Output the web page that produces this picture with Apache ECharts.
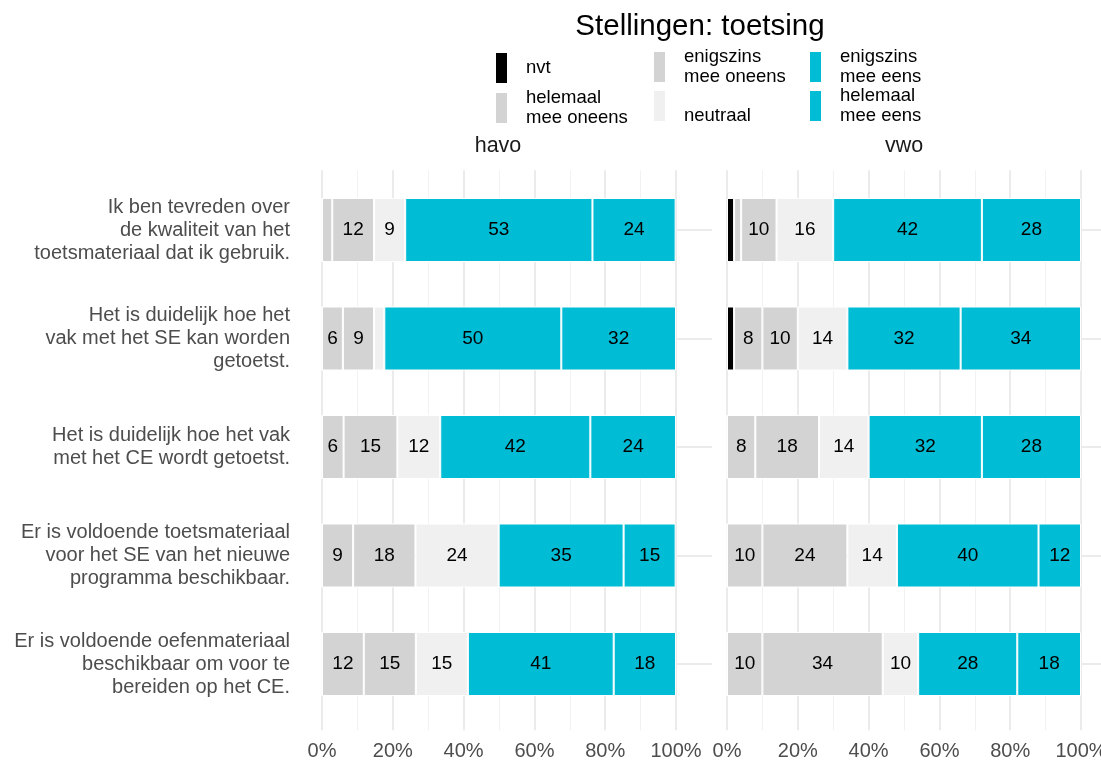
<!DOCTYPE html>
<html><head><meta charset="utf-8">
<script src="https://cdn.jsdelivr.net/npm/echarts@6/dist/echarts.min.js"></script>
<style>html,body{margin:0;padding:0;background:#fff}#c{width:1101px;height:760px}</style>
</head><body><div id="c"></div>
<script>
const categories = [
  'Ik ben tevreden over\nde kwaliteit van het\ntoetsmateriaal dat ik gebruik.',
  'Het is duidelijk hoe het\nvak met het SE kan worden\ngetoetst.',
  'Het is duidelijk hoe het vak\nmet het CE wordt getoetst.',
  'Er is voldoende toetsmateriaal\nvoor het SE van het nieuwe\nprogramma beschikbaar.',
  'Er is voldoende oefenmateriaal\nbeschikbaar om voor te\nbereiden op het CE.'
];
const seriesNames = ['nvt', 'helemaal mee oneens', 'enigszins mee oneens', 'neutraal', 'enigszins mee eens', 'helemaal mee eens'];
const legendLabels = ['nvt', 'helemaal\nmee oneens', 'enigszins\nmee oneens', '\nneutraal', 'enigszins\nmee eens', 'helemaal\nmee eens'];
const panelNames = ['havo', 'vwo'];
const tickLabels = ['0%', '20%', '40%', '60%', '80%', '100%'];
const chartTitle = 'Stellingen: toetsing';

// havo (percentages)
const havoNvt = [0, 0, 0, 0, 0];
const havoHelemaalOneens = [2.9, 5.9, 6.1, 8.8, 11.8];
const havoEnigszinsOneens = [11.8, 8.8, 15.2, 17.6, 14.7];
const havoNeutraal = [8.8, 2.9, 12.1, 23.5, 14.7];
const havoEnigszinsEens = [52.9, 50.0, 42.4, 35.3, 41.2];
const havoHelemaalEens = [23.5, 32.4, 24.2, 14.7, 17.6];

// vwo (percentages)
const vwoNvt = [2, 2, 0, 0, 0];
const vwoHelemaalOneens = [2, 8, 8, 10, 10];
const vwoEnigszinsOneens = [10, 10, 18, 24, 34];
const vwoNeutraal = [16, 14, 14, 14, 10];
const vwoEnigszinsEens = [42, 32, 32, 40, 28];
const vwoHelemaalEens = [28, 34, 28, 12, 18];

const panelData = [
  [havoNvt, havoHelemaalOneens, havoEnigszinsOneens, havoNeutraal, havoEnigszinsEens, havoHelemaalEens],
  [vwoNvt, vwoHelemaalOneens, vwoEnigszinsOneens, vwoNeutraal, vwoEnigszinsEens, vwoHelemaalEens]
];
const colors = ['#000000', '#D3D3D3', '#D3D3D3', '#F0F0F0', '#00BCD4', '#00BCD4'];

const FONT = "'Liberation Sans', Arial, sans-serif";
const gridLefts = [322, 727];
const gridTop = 175.75, gridH = 542.5, gridW = 354;

const grids = [], xAxes = [], yAxes = [], series = [];
panelNames.forEach((pn, p) => {
  grids.push({ left: gridLefts[p], top: gridTop, width: gridW, height: gridH, containLabel: false, outerBoundsMode: 'none' });
  xAxes.push({
    type: 'value', gridIndex: p, min: 0, max: 100, interval: 20, position: 'bottom', offset: 12,
    axisLine: { show: false },
    axisTick: { show: true, inside: true, length: 560, lineStyle: { color: '#EBEBEB', width: 2 } },
    minorTick: { show: true, splitNumber: 2, length: 560, lineStyle: { color: '#F2F2F2', width: 1 } },
    splitLine: { show: false },
    axisLabel: { formatter: v => tickLabels[Math.round(v / 20)], color: '#4D4D4D', fontSize: 20, margin: 11, fontFamily: FONT }
  });
  yAxes.push({
    type: 'category', gridIndex: p, data: categories, inverse: true, offset: 18,
    axisLine: { show: false },
    axisTick: { show: true, inside: true, alignWithLabel: true, length: 390, lineStyle: { color: '#EBEBEB', width: 2 } },
    splitLine: { show: false },
    axisLabel: { show: p === 0, color: '#4D4D4D', fontSize: 20, lineHeight: 23, margin: 14, align: 'right', fontFamily: FONT }
  });
  seriesNames.forEach((sn, i) => {
    series.push({
      type: 'bar', name: sn, stack: 'panel' + p, xAxisIndex: p, yAxisIndex: p,
      data: panelData[p][i], barWidth: 64,
      itemStyle: { color: colors[i], borderColor: '#ffffff', borderWidth: 1 },
      label: {
        show: true, position: 'inside', color: '#000', fontSize: 19, fontFamily: FONT,
        formatter: d => (d.value >= 5 ? String(Math.round(d.value)) : '')
      },
      emphasis: { disabled: true }
    });
  });
});

const legendBase = {
  orient: 'vertical', itemWidth: 13, itemHeight: 32, icon: 'rect', padding: 0, selectedMode: false,
  formatter: name => legendLabels[seriesNames.indexOf(name)],
  textStyle: { fontSize: 18.5, lineHeight: 20, color: '#000', fontFamily: FONT, padding: [0, 0, 0, 13] }
};

const option = {
  animation: false,
  textStyle: { fontFamily: FONT },
  title: [
    { text: chartTitle, left: 695, top: 7, textAlign: 'center', textStyle: { fontSize: 29.5, fontWeight: 'normal', color: '#000', fontFamily: FONT } },
    { text: panelNames[0], left: 493, top: 130, textAlign: 'center', textStyle: { fontSize: 21.5, fontWeight: 'normal', color: '#1A1A1A', fontFamily: FONT } },
    { text: panelNames[1], left: 899, top: 130, textAlign: 'center', textStyle: { fontSize: 21.5, fontWeight: 'normal', color: '#1A1A1A', fontFamily: FONT } }
  ],
  legend: [
    Object.assign({}, legendBase, { data: [seriesNames[0], seriesNames[1]], left: 494, top: 51, itemGap: 3 }),
    Object.assign({}, legendBase, { data: [seriesNames[2], seriesNames[3]], left: 652, top: 47, itemGap: -1 }),
    Object.assign({}, legendBase, { data: [seriesNames[4], seriesNames[5]], left: 808, top: 47, itemGap: -1 })
  ],
  grid: grids,
  xAxis: xAxes,
  yAxis: yAxes,
  series: series
};

const chart = echarts.init(document.getElementById('c'), null, { renderer: 'canvas' });
chart.setOption(option);
</script>
</body></html>
